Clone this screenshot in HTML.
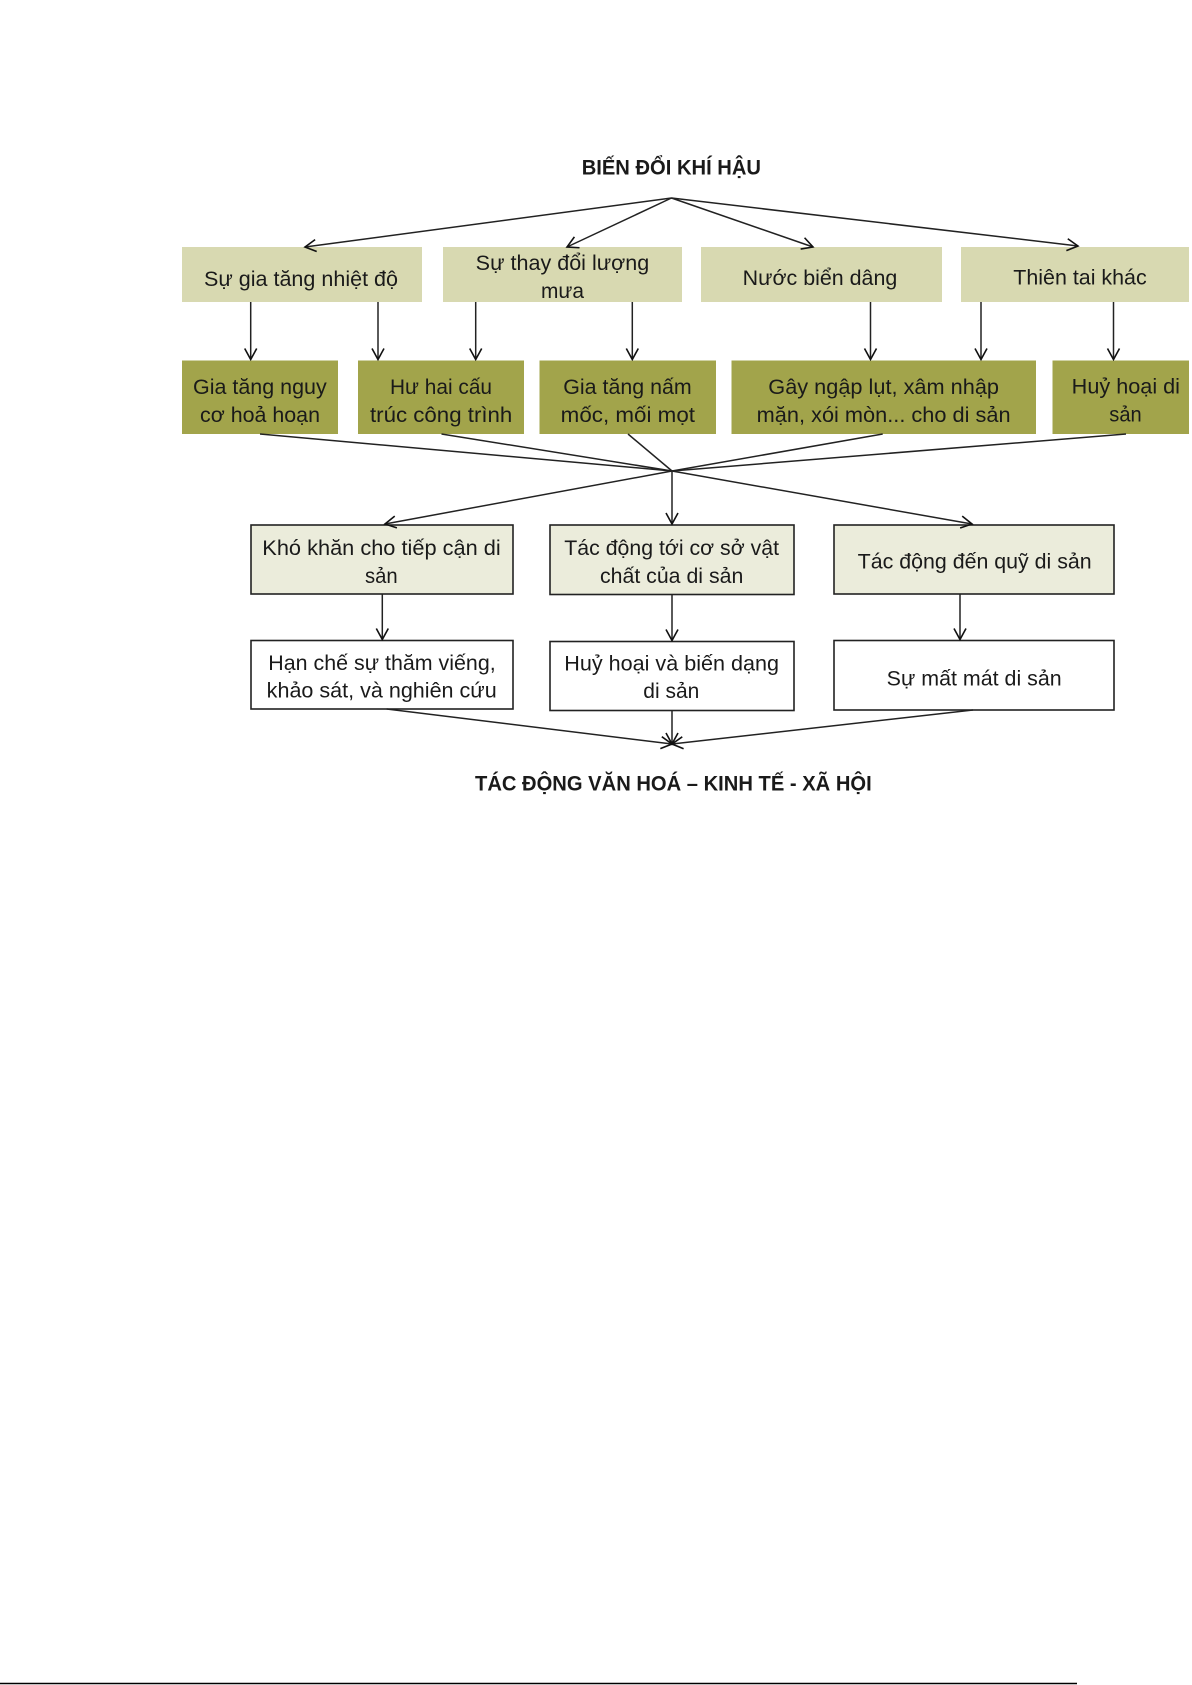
<!DOCTYPE html>
<html>
<head>
<meta charset="utf-8">
<style>
html,body{margin:0;padding:0;background:#fff;}
svg{display:block;}
text{font-family:"Liberation Sans","DejaVu Sans",sans-serif;font-size:21px;fill:#1a1a1a;}
.b{font-weight:bold;}
</style>
</head>
<body>
<svg width="1192" height="1685" viewBox="0 0 1192 1685" xmlns="http://www.w3.org/2000/svg">
<defs>
<marker id="ar" viewBox="0 0 14 14" refX="12.5" refY="7" markerWidth="14" markerHeight="14" markerUnits="userSpaceOnUse" orient="auto">
<path d="M1.5,1 L12.5,7 L1.5,13" fill="none" stroke="#111" stroke-width="1.6"/>
</marker>
</defs>

<!-- Title -->
<text class="b" x="581.7" y="174.5" textLength="179.3" lengthAdjust="spacingAndGlyphs">BIẾN ĐỔI KHÍ HẬU</text>

<!-- Row 1 boxes -->
<g fill="#d8d9b1">
<rect x="182" y="247" width="240" height="55"/>
<rect x="443" y="247" width="239" height="55"/>
<rect x="701" y="247" width="241" height="55"/>
<rect x="961" y="247" width="228" height="55"/>
</g>
<text x="204" y="286" textLength="194" lengthAdjust="spacingAndGlyphs">Sự gia tăng nhiệt độ</text>
<text x="475.7" y="270" textLength="173.6" lengthAdjust="spacingAndGlyphs">Sự thay đổi lượng</text>
<text x="541" y="298" textLength="43" lengthAdjust="spacingAndGlyphs">mưa</text>
<text x="742.7" y="285" textLength="154.6" lengthAdjust="spacingAndGlyphs">Nước biển dâng</text>
<text x="1013.3" y="284.5" textLength="133.4" lengthAdjust="spacingAndGlyphs">Thiên tai khác</text>

<!-- Row 2 boxes -->
<g fill="#a2a44b">
<rect x="182" y="360.5" width="156" height="73.5"/>
<rect x="358" y="360.5" width="166" height="73.5"/>
<rect x="539.5" y="360.5" width="176.5" height="73.5"/>
<rect x="731.5" y="360.5" width="304.5" height="73.5"/>
<rect x="1052.5" y="360.5" width="136.5" height="73.5"/>
</g>
<text x="193" y="394" textLength="133.7" lengthAdjust="spacingAndGlyphs">Gia tăng nguy</text>
<text x="200" y="422" textLength="120" lengthAdjust="spacingAndGlyphs">cơ hoả hoạn</text>
<text x="390" y="394" textLength="102" lengthAdjust="spacingAndGlyphs">Hư hai cấu</text>
<text x="370" y="422" textLength="142.3" lengthAdjust="spacingAndGlyphs">trúc công trình</text>
<text x="563.3" y="394" textLength="128.4" lengthAdjust="spacingAndGlyphs">Gia tăng nấm</text>
<text x="560.7" y="422" textLength="134.3" lengthAdjust="spacingAndGlyphs">mốc, mối mọt</text>
<text x="768.3" y="394" textLength="230.7" lengthAdjust="spacingAndGlyphs">Gây ngập lụt, xâm nhập</text>
<text x="756.7" y="422" textLength="253.9" lengthAdjust="spacingAndGlyphs">mặn, xói mòn... cho di sản</text>
<text x="1071.7" y="393.5" textLength="108.3" lengthAdjust="spacingAndGlyphs">Huỷ hoại di</text>
<text x="1109.3" y="421.7" textLength="32.4" lengthAdjust="spacingAndGlyphs">sản</text>

<!-- Row 3 boxes -->
<g fill="#ebecdb" stroke="#222" stroke-width="1.6">
<rect x="251" y="525" width="262" height="69"/>
<rect x="550" y="525" width="244" height="69.5"/>
<rect x="834" y="525" width="280" height="69"/>
</g>
<text x="262.3" y="555" textLength="238.4" lengthAdjust="spacingAndGlyphs">Khó khăn cho tiếp cận di</text>
<text x="365" y="583" textLength="32.7" lengthAdjust="spacingAndGlyphs">sản</text>
<text x="564.3" y="555" textLength="214.7" lengthAdjust="spacingAndGlyphs">Tác động tới cơ sở vật</text>
<text x="600" y="583" textLength="143.3" lengthAdjust="spacingAndGlyphs">chất của di sản</text>
<text x="857.7" y="568.3" textLength="234" lengthAdjust="spacingAndGlyphs">Tác động đến quỹ di sản</text>

<!-- Row 4 boxes -->
<g fill="#fff" stroke="#222" stroke-width="1.6">
<rect x="251" y="640.5" width="262" height="68.5"/>
<rect x="550" y="641.5" width="244" height="69"/>
<rect x="834" y="640.5" width="280" height="69.5"/>
</g>
<text x="268.3" y="670" textLength="227.4" lengthAdjust="spacingAndGlyphs">Hạn chế sự thăm viếng,</text>
<text x="266.7" y="697.7" textLength="230" lengthAdjust="spacingAndGlyphs">khảo sát, và nghiên cứu</text>
<text x="564.3" y="670.7" textLength="214.7" lengthAdjust="spacingAndGlyphs">Huỷ hoại và biến dạng</text>
<text x="643.3" y="698" textLength="56" lengthAdjust="spacingAndGlyphs">di sản</text>
<text x="886.7" y="685.7" textLength="175" lengthAdjust="spacingAndGlyphs">Sự mất mát di sản</text>

<!-- Bottom title -->
<text class="b" x="475" y="790.7" textLength="396.7" lengthAdjust="spacingAndGlyphs">TÁC ĐỘNG VĂN HOÁ – KINH TẾ - XÃ HỘI</text>

<!-- Connectors -->
<g stroke="#222" stroke-width="1.5" fill="none">
<!-- from title apex -->
<line x1="671.5" y1="198" x2="305" y2="247" marker-end="url(#ar)"/>
<line x1="671.5" y1="198" x2="567" y2="247" marker-end="url(#ar)"/>
<line x1="671.5" y1="198" x2="813" y2="247" marker-end="url(#ar)"/>
<line x1="671.5" y1="198" x2="1078" y2="246" marker-end="url(#ar)"/>

<!-- row1 -> row2 -->
<line x1="250.7" y1="302" x2="250.7" y2="359.5" marker-end="url(#ar)"/>
<line x1="378" y1="302" x2="378" y2="359.5" marker-end="url(#ar)"/>
<line x1="475.7" y1="302" x2="475.7" y2="359.5" marker-end="url(#ar)"/>
<line x1="632.3" y1="302" x2="632.3" y2="359.5" marker-end="url(#ar)"/>
<line x1="870.5" y1="302" x2="870.5" y2="359.5" marker-end="url(#ar)"/>
<line x1="981" y1="302" x2="981" y2="359.5" marker-end="url(#ar)"/>
<line x1="1113.5" y1="302" x2="1113.5" y2="359.5" marker-end="url(#ar)"/>

<!-- row2 -> convergence -->
<line x1="260" y1="434" x2="672" y2="471"/>
<line x1="441.5" y1="434" x2="672" y2="471"/>
<line x1="628" y1="434" x2="672" y2="471"/>
<line x1="882.7" y1="434" x2="672" y2="471"/>
<line x1="1126" y1="434" x2="672" y2="471"/>

<!-- convergence -> row3 -->
<line x1="672" y1="471" x2="385" y2="524" marker-end="url(#ar)"/>
<line x1="672" y1="471" x2="672" y2="524" marker-end="url(#ar)"/>
<line x1="672" y1="471" x2="972" y2="524" marker-end="url(#ar)"/>

<!-- row3 -> row4 -->
<line x1="382.3" y1="594" x2="382.3" y2="639.5" marker-end="url(#ar)"/>
<line x1="672" y1="595" x2="672" y2="640.5" marker-end="url(#ar)"/>
<line x1="960" y1="594" x2="960" y2="639.5" marker-end="url(#ar)"/>

<!-- row4 -> bottom -->
<line x1="386.7" y1="709" x2="672" y2="744" marker-end="url(#ar)"/>
<line x1="672" y1="710.5" x2="672" y2="744" marker-end="url(#ar)"/>
<line x1="973" y1="710" x2="672" y2="744" marker-end="url(#ar)"/>
</g>

<!-- page bottom rule -->
<line x1="0" y1="1683.5" x2="1077" y2="1683.5" stroke="#000" stroke-width="1.6"/>
</svg>
</body>
</html>
